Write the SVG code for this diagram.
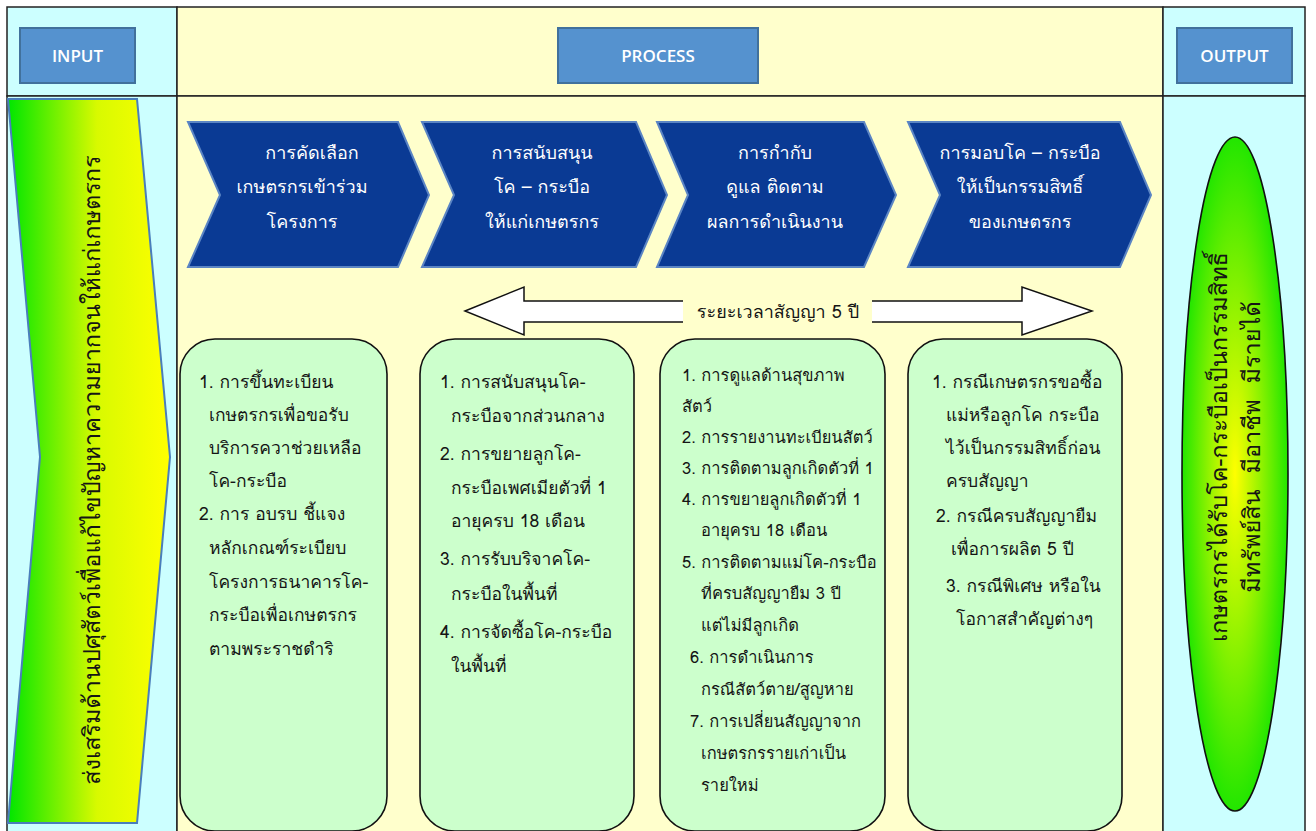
<svg xmlns="http://www.w3.org/2000/svg" width="1316" height="831" viewBox="0 0 1316 831">
<style>
.cell{stroke:#222;stroke-width:1.5}
.hbox{fill:#5592CF;stroke:#41719C;stroke-width:2}
.htxt{fill:#fff;font-family:"Open Sans","Liberation Sans",sans-serif;font-size:17px;font-weight:600;text-anchor:middle}
.chev{fill:#0A3A94;stroke:#5B85C4;stroke-width:2}
.th{font-family:"Loma","Garuda","Noto Sans Thai Looped","Noto Sans Thai","Noto Sans","DejaVu Sans",sans-serif}
.ctxt{fill:#fff;font-size:18px;text-anchor:middle}
.gbox{fill:#CCFFCC;stroke:#111;stroke-width:1.6}
.btxt{fill:#151515;font-size:17.5px}
.stxt{fill:#151515;font-size:16.5px}
.atxt{fill:#151515;font-size:18px;text-anchor:middle}
.vtxt{fill:#151515;font-size:23.5px;text-anchor:middle}
</style>
<defs>
<linearGradient id="gy" x1="0" y1="0" x2="1" y2="0">
<stop offset="0" stop-color="#00E600"/>
<stop offset="0.55" stop-color="#D8FA00"/>
<stop offset="1" stop-color="#FFFF00"/>
</linearGradient>
<radialGradient id="rg" cx="0.5" cy="0.5" r="0.5">
<stop offset="0" stop-color="#FFFF00"/>
<stop offset="1" stop-color="#22E600"/>
</radialGradient>
</defs>
<rect x="0" y="0" width="1316" height="831" fill="#fff"/>
<g id="frame">
<rect class="cell" x="7" y="7" width="170" height="89" fill="#CCFFFF"/>
<rect class="cell" x="177" y="7" width="986" height="89" fill="#FFFFCC"/>
<rect class="cell" x="1163" y="7" width="142" height="89" fill="#CCFFFF"/>
<rect class="cell" x="7" y="96" width="170" height="740" fill="#CCFFFF"/>
<rect class="cell" x="177" y="96" width="986" height="740" fill="#FFFFCC"/>
<rect class="cell" x="1163" y="96" width="142" height="740" fill="#CCFFFF"/>
</g>
<g id="input-head"><rect class="hbox" x="20" y="28" width="115" height="55"/><text class="htxt" x="77.5" y="62">INPUT</text></g>
<g id="process-head"><rect class="hbox" x="558" y="28" width="200" height="55"/><text class="htxt" x="658" y="62">PROCESS</text></g>
<g id="output-head"><rect class="hbox" x="1177" y="28" width="115" height="55"/><text class="htxt" x="1234.5" y="62">OUTPUT</text></g>
<g id="input-arrow">
<polygon points="8,99 137,99 170,457 137,823 8,823 40,457" fill="url(#gy)" stroke="#4A7EBB" stroke-width="2"/>
<text class="vtxt th" transform="translate(100,470) rotate(-90)">ส่งเสริมด้านปศุสัตว์เพื่อแก้ไขปัญหาความยากจนให้แก่เกษตรกร</text>
</g>
<g id="step1"><polygon class="chev" points="188,122 398,122 429,195 398,267 188,267 220,195"/>
<text class="ctxt th"><tspan x="312" y="159">การคัดเลือก</tspan><tspan x="302" y="193">เกษตรกรเข้าร่วม</tspan><tspan x="302" y="228">โครงการ</tspan></text></g>
<g id="step2"><polygon class="chev" points="422,122 636,122 667,195 636,267 422,267 454,195"/>
<text class="ctxt th"><tspan x="542" y="159">การสนับสนุน</tspan><tspan x="542" y="193">โค – กระบือ</tspan><tspan x="542" y="228">ให้แก่เกษตรกร</tspan></text></g>
<g id="step3"><polygon class="chev" points="657,122 864,122 896,195 864,267 657,267 688,195"/>
<text class="ctxt th"><tspan x="775" y="159">การกำกับ</tspan><tspan x="775" y="193">ดูแล ติดตาม</tspan><tspan x="775" y="228">ผลการดำเนินงาน</tspan></text></g>
<g id="step4"><polygon class="chev" points="908,122 1120,122 1151,195 1120,267 908,267 940,195"/>
<text class="ctxt th"><tspan x="1020" y="159">การมอบโค – กระบือ</tspan><tspan x="1020" y="193">ให้เป็นกรรมสิทธิ์</tspan><tspan x="1020" y="228">ของเกษตรกร</tspan></text></g>
<g id="connectors">
<polygon points="465,311 524,287 524,301 1022,301 1022,287 1092,311 1022,335 1022,322 524,322 524,335" fill="#fff" stroke="#111" stroke-width="1.5"/>
<rect x="683" y="297" width="189" height="30" fill="#FFFFCC"/>
<text class="atxt th" x="778" y="318">ระยะเวลาสัญญา 5 ปี</text>
</g>
<g id="box1"><rect class="gbox" x="180" y="339" width="207" height="492" rx="35"/>
<text class="btxt th"><tspan x="199" y="388">1. การขึ้นทะเบียน</tspan><tspan x="209" y="421">เกษตรกรเพื่อขอรับ</tspan><tspan x="209" y="454">บริการควาช่วยเหลือ</tspan><tspan x="209" y="487">โค-กระบือ</tspan><tspan x="199" y="520">2. การ อบรบ ชี้แจง</tspan><tspan x="209" y="554">หลักเกณฑ์ระเบียบ</tspan><tspan x="209" y="588">โครงการธนาคารโค-</tspan><tspan x="209" y="621">กระบือเพื่อเกษตรกร</tspan><tspan x="209" y="655">ตามพระราชดำริ</tspan></text></g>
<g id="box2"><rect class="gbox" x="420" y="339" width="214" height="492" rx="35"/>
<text class="btxt th"><tspan x="440" y="388">1. การสนับสนุนโค-</tspan><tspan x="451" y="422">กระบือจากส่วนกลาง</tspan><tspan x="440" y="460">2. การขยายลูกโค-</tspan><tspan x="451" y="494">กระบือเพศเมียตัวที่ 1</tspan><tspan x="451" y="527">อายุครบ 18 เดือน</tspan><tspan x="440" y="565">3. การรับบริจาคโค-</tspan><tspan x="451" y="600">กระบือในพื้นที่</tspan><tspan x="440" y="638">4. การจัดซื้อโค-กระบือ</tspan><tspan x="451" y="672">ในพื้นที่</tspan></text></g>
<g id="box3"><rect class="gbox" x="660" y="339" width="225" height="492" rx="35"/>
<text class="stxt th"><tspan x="682" y="381">1. การดูแลด้านสุขภาพ</tspan><tspan x="682" y="412">สัตว์</tspan><tspan x="682" y="443">2. การรายงานทะเบียนสัตว์</tspan><tspan x="682" y="474">3. การติดตามลูกเกิดตัวที่ 1</tspan><tspan x="682" y="505">4. การขยายลูกเกิดตัวที่ 1</tspan><tspan x="701" y="536">อายุครบ 18 เดือน</tspan><tspan x="682" y="568">5. การติดตามแม่โค-กระบือ</tspan><tspan x="701" y="599">ที่ครบสัญญายืม 3 ปี</tspan><tspan x="701" y="631">แต่ไม่มีลูกเกิด</tspan><tspan x="690" y="663">6. การดำเนินการ</tspan><tspan x="701" y="695">กรณีสัตว์ตาย/สูญหาย</tspan><tspan x="690" y="727">7. การเปลี่ยนสัญญาจาก</tspan><tspan x="701" y="759">เกษตรกรรายเก่าเป็น</tspan><tspan x="701" y="791">รายใหม่</tspan></text></g>
<g id="box4"><rect class="gbox" x="908" y="339" width="214" height="492" rx="35"/>
<text class="btxt th"><tspan x="932" y="388">1. กรณีเกษตรกรขอซื้อ</tspan><tspan x="946" y="421">แม่หรือลูกโค กระบือ</tspan><tspan x="946" y="454">ไว้เป็นกรรมสิทธิ์ก่อน</tspan><tspan x="946" y="487">ครบสัญญา</tspan><tspan x="936" y="522">2. กรณีครบสัญญายืม</tspan><tspan x="951" y="555">เพื่อการผลิต 5 ปี</tspan><tspan x="946" y="592">3. กรณีพิเศษ  หรือใน</tspan><tspan x="956" y="625">โอกาสสำคัญต่างๆ</tspan></text></g>
<g id="output-ellipse">
<ellipse cx="1235" cy="474" rx="53" ry="337" fill="url(#rg)" stroke="#111" stroke-width="1.6"/>
<text class="vtxt th" transform="translate(1235,447) rotate(-90)" xml:space="preserve"><tspan x="0" y="-8">เกษตรกรได้รับโค-กระบือเป็นกรรมสิทธิ์</tspan><tspan x="0" y="25">มีทรัพย์สิน  มีอาชีพ  มีรายได้</tspan></text>
</g>
</svg>
